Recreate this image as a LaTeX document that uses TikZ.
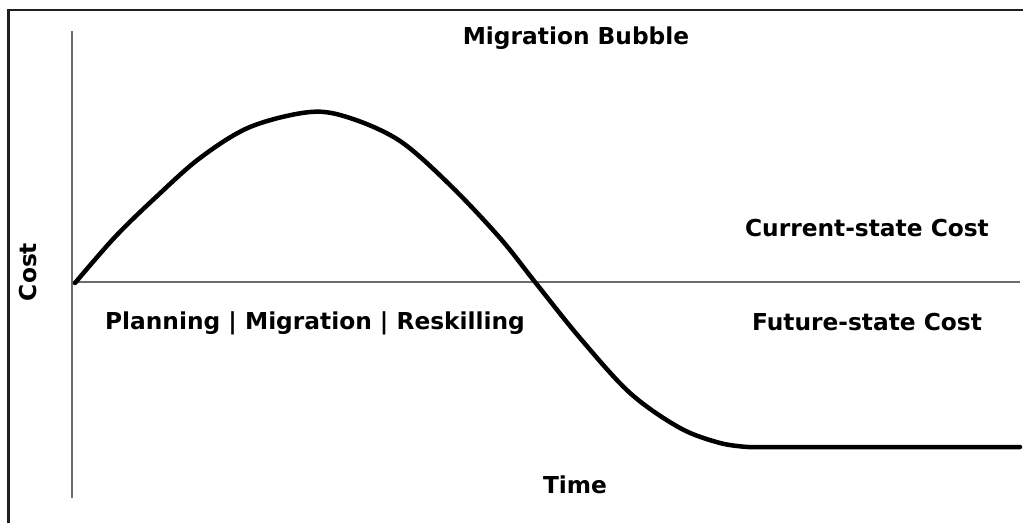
\documentclass[tikz,border=0pt]{standalone}
\usepackage{fontspec}
\setmainfont{DejaVu Sans}
\begin{document}
\begin{tikzpicture}[x=1pt,y=-1pt,
  lbl/.style={font=\fontsize{23.3}{26}\selectfont\bfseries, text=black, inner sep=0pt},
  axisline/.style={draw=gray!85!black, line width=1.3pt},
  frameline/.style={draw=black!88, line width=2.8pt},
  costcurve/.style={draw=black, line width=4.5pt, line cap=round, line join=round}]
\useasboundingbox (0,0) rectangle (1023,523);
\fill[white] (0,0) rectangle (1023,523);
% frame (top and left edges only)
\coordinate (ftl) at (8.5,10);
\coordinate (ftr) at (1023,10);
\coordinate (fbl) at (8.5,523);
\draw[frameline] (fbl) -- (ftl) -- (ftr);
% axes
\coordinate (ytop) at (72,31);
\coordinate (ybot) at (72,498);
\coordinate (orig) at (72,282);
\coordinate (xend) at (1020,282);
\draw[axisline] (ytop) -- (ybot);
\draw[axisline] (orig) -- (xend);
% curve
\coordinate (cend) at (1020,447);
\draw[costcurve] plot[smooth, tension=0.55] coordinates {(75,283) (115,237) (155,198) (200,158) (250,127) (310,112) (350,118) (400,141) (450,185) (500,238) (535,282) (580,338) (630,393) (680,428) (720,443) (748,447)} -- (cend);
% labels
\node[lbl] (title) at (576,38) {Migration Bubble};
\node[lbl, rotate=90] (cost) at (28,272) {Cost};
\node[lbl] (phases) at (315,323) {Planning | Migration | Reskilling};
\node[lbl] (cur) at (867,228) {Current-state Cost};
\node[lbl] (fut) at (867,322) {Future-state Cost};
\node[lbl] (time) at (575,485) {Time};
\end{tikzpicture}
\end{document}
